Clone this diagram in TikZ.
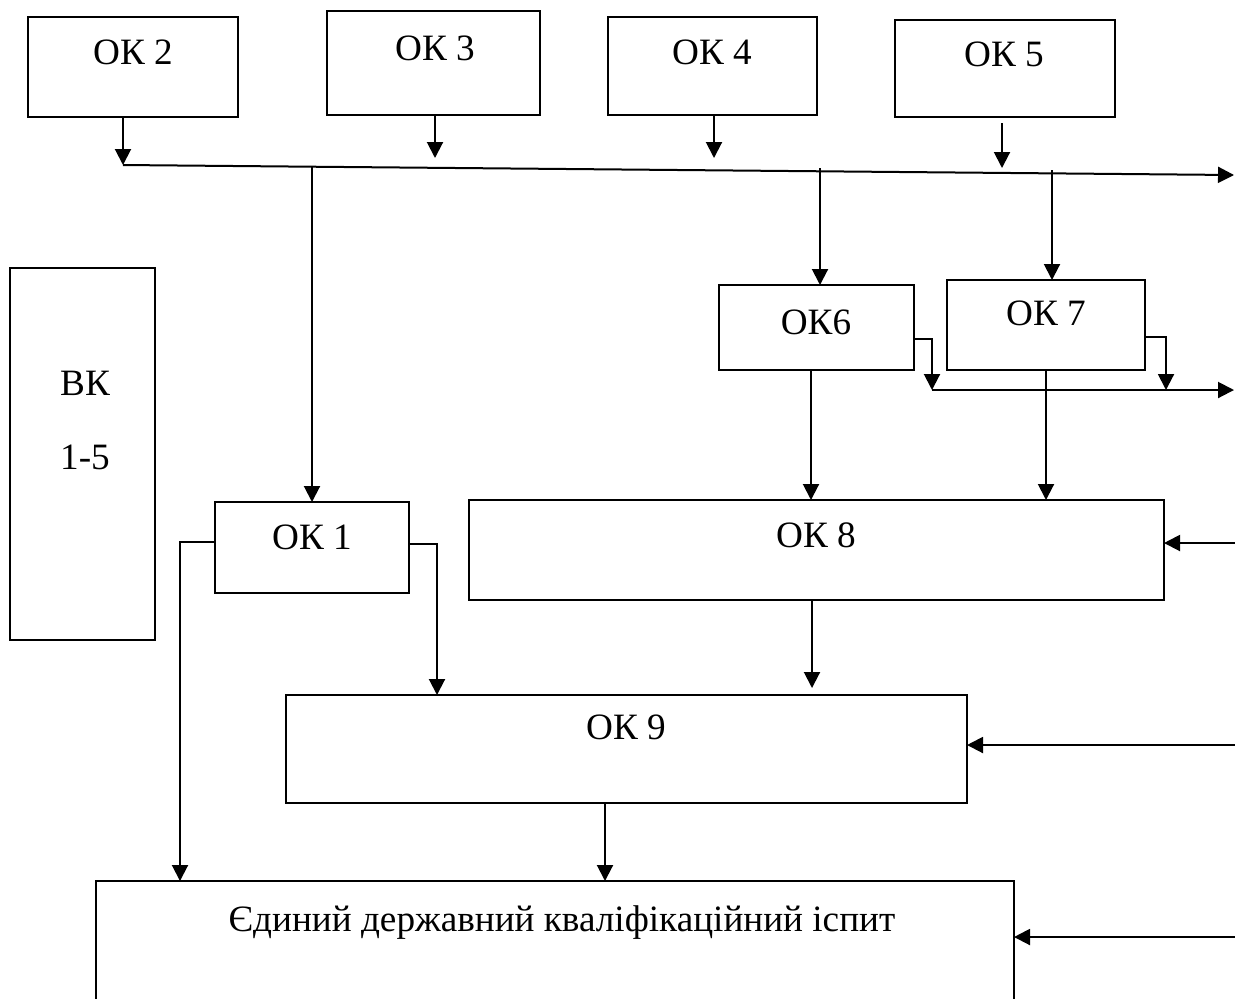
\documentclass[tikz,border=0pt]{standalone}
\usepackage{fontspec}
\setmainfont{Liberation Serif}
\usetikzlibrary{arrows.meta,calc}
\begin{document}
\begin{tikzpicture}[x=0.5pt,y=-0.5pt,
  box/.style={draw,line width=1pt,inner sep=0pt,outer sep=0pt},
  lbl/.style={anchor=base,inner sep=0pt,font=\rmfamily\fontsize{18.6}{22}\selectfont},
  conn/.style={line width=1pt},
  arr/.style={line width=1pt,-{Triangle[length=8pt,width=8pt]}}]
\useasboundingbox (0,0) rectangle (1235,998);
\clip (0,0) rectangle (1235,998);
% boxes
\node[box,minimum width=105pt,minimum height=50pt] (ok2) at (133,67) {};
\node[box,minimum width=106.5pt,minimum height=52pt] (ok3) at (433.5,63) {};
\node[box,minimum width=104.5pt,minimum height=49pt] (ok4) at (712.5,66) {};
\node[box,minimum width=110pt,minimum height=48.5pt] (ok5) at (1005,68.5) {};
\node[box,minimum width=97.5pt,minimum height=42.5pt] (ok6) at (816.5,327.5) {};
\node[box,minimum width=99pt,minimum height=45pt] (ok7) at (1046,325) {};
\node[box,minimum width=347.5pt,minimum height=50pt] (ok8) at (816.5,550) {};
\node[box,minimum width=97pt,minimum height=45.5pt] (ok1) at (312,547.5) {};
\node[box,minimum width=340.5pt,minimum height=54pt] (ok9) at (626.5,749) {};
\node[box,minimum width=459pt,minimum height=70pt] (exam) at (555,951) {};
\node[box,minimum width=72.5pt,minimum height=186pt] (vk) at (82.5,454) {};
% labels
\node[lbl] (t2) at (133,64) {ОК 2};
\node[lbl] (t3) at (435,60) {ОК 3};
\node[lbl] (t4) at (712,64) {ОК 4};
\node[lbl] (t5) at (1004,66) {ОК 5};
\node[lbl] (t6) at (816,334) {ОК6};
\node[lbl] (t7) at (1046,325) {ОК 7};
\node[lbl] (t8) at (816,547) {ОК 8};
\node[lbl] (t1) at (312,549) {ОК 1};
\node[lbl] (t9) at (626,739) {ОК 9};
\node[lbl] (te) at (562,931) {Єдиний державний кваліфікаційний іспит};
\node[lbl] (tv1) at (85,395) {ВК};
\node[lbl] (tv2) at (85,469) {1-5};
% coordinates
\coordinate (bs) at (123,165);
\coordinate (be) at (1234,175);
\coordinate (a3) at (435,158);
\coordinate (a4) at (714,158);
\coordinate (a5) at (1002,168);
\coordinate (a5s) at (1002,123);
\coordinate (b1) at (312,167);
\coordinate (b6) at (820,168);
\coordinate (b7) at (1052,170);
\coordinate (c6) at (932,339);
\coordinate (c7) at (1166,337);
\coordinate (ls) at (932,390);
\coordinate (le) at (1234,390);
\coordinate (d6) at (811,372);
\coordinate (r8) at (1235,543);
\coordinate (e1) at (180,542);
\coordinate (f1) at (437,544);
\coordinate (g8) at (812,688);
\coordinate (r9) at (1235,745);
\coordinate (h9) at (605,803);
\coordinate (re) at (1235,937);
% connectors
\draw[arr] (bs |- ok2.south) -- (bs);
\draw[arr] (a3 |- ok3.south) -- (a3);
\draw[arr] (a4 |- ok4.south) -- (a4);
\draw[arr] (a5s) -- (a5);
\draw[arr] (bs) -- (be);
\draw[arr] (b1) -- (b1 |- ok1.north);
\draw[arr] (b6) -- (b6 |- ok6.north);
\draw[arr] (b7) -- (b7 |- ok7.north);
\draw[arr] (c6 -| ok6.east) -- (c6) -- (c6 |- ls);
\draw[arr] (c7 -| ok7.east) -- (c7) -- (c7 |- ls);
\draw[arr] (ls) -- (le);
\draw[arr] (d6 |- ok6.south) -- (d6 |- ok8.north);
\draw[arr] (ok7.south) -- (ok7.south |- ok8.north);
\draw[arr] (r8) -- (r8 -| ok8.east);
\draw[arr] (e1 -| ok1.west) -- (e1) -- (e1 |- exam.north);
\draw[arr] (f1 -| ok1.east) -- (f1) -- (f1 |- ok9.north);
\draw[arr] (g8 |- ok8.south) -- (g8);
\draw[arr] (r9) -- (r9 -| ok9.east);
\draw[arr] (h9 |- ok9.south) -- (h9 |- exam.north);
\draw[arr] (re) -- (re -| exam.east);
\end{tikzpicture}
\end{document}
